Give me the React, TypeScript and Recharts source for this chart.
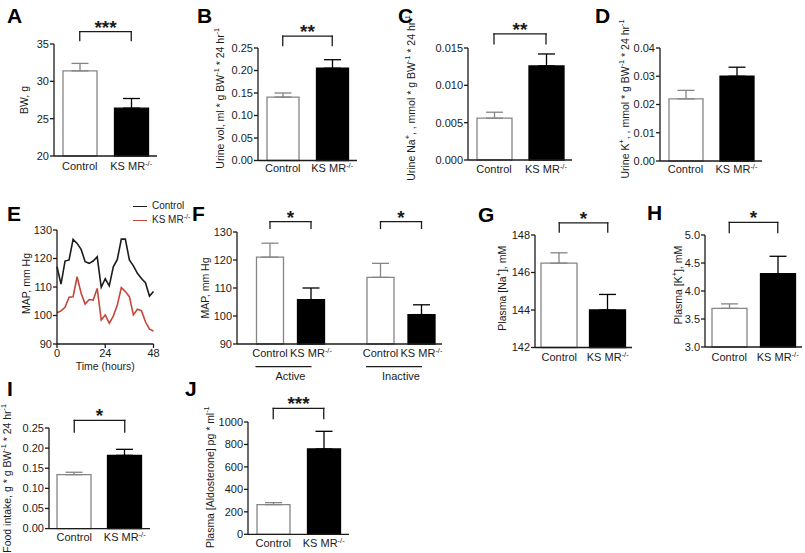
import React from 'react';
import { BarChart, Bar, Cell, XAxis, YAxis, ErrorBar, ReferenceLine, LineChart, Line, Legend } from 'recharts';

const FONT = '"Liberation Sans", Arial, Helvetica, sans-serif';
const INK = '#1b1b1b';
const GREY = '#858585';
const RED = '#c4473b';
const YW = 60;
const PADL = 80;
const PADT = 42;
const PADR = 8;

// ---------- data ----------
const groups = ['Control', 'KS MR-/-'];

// A body weight
const bwMean = [31.4, 26.4];
const bwErr = [1.0, 1.3];
const bwTicks = [20, 25, 30, 35];
// B urine volume
const urineVolMean = [0.141, 0.205];
const urineVolErr = [0.009, 0.019];
const urineVolTicks = [0, 0.05, 0.1, 0.15, 0.2, 0.25];
// C urine Na
const urineNaMean = [0.0056, 0.0126];
const urineNaErr = [0.0008, 0.0016];
const urineNaTicks = [0, 0.005, 0.01, 0.015];
// D urine K
const urineKMean = [0.022, 0.03];
const urineKErr = [0.003, 0.0032];
const urineKTicks = [0, 0.01, 0.02, 0.03, 0.04];
// E MAP time course
const hours = [0, 2, 4, 6, 8, 10, 12, 14, 16, 18, 20, 22, 24, 26, 28, 30, 32, 34, 36, 38, 40, 42, 44, 46, 48];
const mapControl = [117.1, 111.0, 119.1, 119.5, 126.7, 125.3, 123.2, 118.9, 118.3, 119.1, 120.6, 109.9, 112.9, 110.4, 117.1, 119.7, 126.8, 126.8, 119.5, 117.4, 114.8, 113.0, 111.5, 106.8, 108.4];
const mapKS = [101.0, 101.6, 102.9, 106.4, 106.6, 113.6, 107.8, 104.0, 105.6, 105.4, 109.5, 98.4, 100.2, 97.3, 99.8, 103.7, 109.8, 108.4, 106.6, 100.2, 102.2, 101.7, 97.8, 95.2, 94.6];
const hourTicks = [0, 24, 48];
const mapTicks = [90, 100, 110, 120, 130];
// F MAP active / inactive
const mapActiveMean = [121.0, 105.8];
const mapActiveErr = [5.0, 4.2];
const mapInactiveMean = [113.8, 100.5];
const mapInactiveErr = [5.0, 3.5];
// G plasma Na
const plasmaNaMean = [146.5, 144.0];
const plasmaNaErr = [0.55, 0.83];
const plasmaNaTicks = [142, 144, 146, 148];
// H plasma K
const plasmaKMean = [3.69, 4.31];
const plasmaKErr = [0.08, 0.31];
const plasmaKTicks = [3.0, 3.5, 4.0, 4.5, 5.0];
// I food intake
const foodMean = [0.134, 0.182];
const foodErr = [0.006, 0.015];
const foodTicks = [0, 0.05, 0.1, 0.15, 0.2, 0.25];
// J aldosterone
const aldoMean = [264, 760];
const aldoErr = [18, 157];
const aldoTicks = [0, 200, 400, 600, 800, 1000];

const rows = (mean: number[], err: number[]) =>
  groups.map((name, i) => ({
    name,
    value: mean[i],
    errC: i === 0 ? [0, err[i]] : undefined,
    errK: i === 1 ? [0, err[i]] : undefined,
  }));

const eRows = hours.map((h, i) => ({ h, ctrl: mapControl[i], ks: mapKS[i] }));

// ---------- text helpers ----------
const lblBW = ['BW, g'];
const lblUrineVol = ['Urine vol, ml * g BW', ['-1'], ' * 24 hr', ['-1']];
const lblUrineNa = ['Urine Na', ['+'], ', , mmol * g BW', ['-1'], ' * 24 hr', ['-1']];
const lblUrineK = ['Urine K', ['+'], ', , mmol * g BW', ['-1'], ' * 24 hr', ['-1']];
const lblMAP = ['MAP, mm Hg'];
const lblPNa = ['Plasma [Na', ['+'], '], mM'];
const lblPK = ['Plasma [K', ['+'], '], mM'];
const lblFood = ['Food intake, g * g BW', ['-1'], ' * 24 hr', ['-1']];
const lblAldo = ['Plasma [Aldosterone] pg * ml', ['-1']];

function rich(parts: any[], fs: number) {
  const out: any[] = [];
  let raised = false;
  const sh = fs * 0.38;
  parts.forEach((p, i) => {
    if (Array.isArray(p)) {
      out.push(<tspan key={i} fontSize={fs * 0.7} dy={raised ? 0 : -sh}>{p[0]}</tspan>);
      raised = true;
    } else {
      out.push(<tspan key={i} dy={raised ? sh : 0}>{p}</tspan>);
      raised = false;
    }
  });
  return out;
}

function YLabel(props: any) {
  const { viewBox, parts, dist, dy = 0 } = props;
  if (!viewBox) return null;
  const cx = viewBox.x + viewBox.width - dist;
  const cy = viewBox.y + viewBox.height / 2 + dy;
  return (
    <text x={cx} y={cy} transform={`rotate(-90 ${cx} ${cy})`} textAnchor="middle" dominantBaseline="central" fontSize={10.5} fill={INK} fontFamily={FONT}>
      {rich(parts, 10.5)}
    </text>
  );
}

function CatTick(props: any) {
  const { x, y, payload } = props;
  const v = String(payload.value);
  const k = v.indexOf('-/-');
  return (
    <text x={x} y={y} dy="0.71em" textAnchor="middle" fontSize={11} fill={INK} fontFamily={FONT}>
      {k < 0 ? v : [<tspan key="a">{v.slice(0, k)}</tspan>, <tspan key="b" fontSize={7.5} dy={-4}>-/-</tspan>]}
    </text>
  );
}

function GroupLabel(props: any) {
  const { viewBox, text, padL, padR } = props;
  if (!viewBox) return null;
  const c = viewBox.x + padL + (viewBox.width - padL - padR) / 2;
  const y0 = viewBox.y;
  return (
    <g>
      <line x1={c - 35} x2={c + 21} y1={y0 + 22.7} y2={y0 + 22.7} stroke={INK} strokeWidth={1.2} />
      <text x={c} y={y0 + 35.5} textAnchor="middle" fontSize={11} fill={INK} fontFamily={FONT}>{text}</text>
    </g>
  );
}

function bracketLines(b: number[] | undefined, stars: string) {
  if (!b) return null;
  const common: any = { stroke: INK, strokeWidth: 1.3, ifOverflow: 'visible', strokeLinecap: 'square' };
  return [
    <ReferenceLine key="bh" {...common} segment={[{ x: groups[0], y: b[0] }, { x: groups[1], y: b[0] }]}
      label={{ value: stars, position: 'top', offset: -2, fontSize: 19, fontWeight: 700, fill: INK }} />,
    <ReferenceLine key="bl" {...common} segment={[{ x: groups[0], y: b[0] }, { x: groups[0], y: b[1] }]} />,
    <ReferenceLine key="br" {...common} segment={[{ x: groups[1], y: b[0] }, { x: groups[1], y: b[1] }]} />,
  ];
}

function BarPanel(props: any) {
  const { g, data, domain, ticks, dec, label, bracket, stars, hideY, padding, groupLabel } = props;
  const { x0, x1, yT, yB, dist = 30, dy = 0, bar = 33, tm = 5, xh = 30 } = g;
  const left = hideY ? 0 : PADL;
  const yw = hideY ? 0 : YW;
  const W = x1 - x0 + left + PADR;
  const H = yB - yT + PADT + xh;
  return (
    <div style={{ position: 'absolute', left: x0 - left, top: yT - PADT }}>
      <BarChart width={W} height={H} data={data} margin={{ top: PADT, right: PADR, bottom: 0, left: left - yw }}>
        <XAxis dataKey="name" height={xh} interval={0} tickLine={false} tickSize={0} tickMargin={tm}
          axisLine={{ stroke: INK, strokeWidth: 1.3 }} tick={<CatTick />} padding={padding || { left: 0, right: 0 }}
          label={groupLabel} />
        <YAxis hide={!!hideY} width={yw} type="number" domain={domain} ticks={ticks} interval={0}
          tickFormatter={(v: number) => v.toFixed(dec)} tickSize={4} tickMargin={1}
          axisLine={{ stroke: INK, strokeWidth: 1.3 }} tickLine={{ stroke: INK, strokeWidth: 1.3 }}
          tick={{ fontSize: 11, fill: INK }}
          label={hideY ? undefined : <YLabel parts={label} dist={dist} dy={dy} />} />
        <Bar dataKey="value" barSize={bar} isAnimationActive={false}>
          {data.map((d: any, i: number) => (
            <Cell key={i} fill={i === 0 ? '#ffffff' : '#000000'} stroke={i === 0 ? GREY : '#000000'} strokeWidth={1.3} />
          ))}
          <ErrorBar dataKey="errC" width={8.5} stroke={GREY} strokeWidth={1.3} direction="y" />
          <ErrorBar dataKey="errK" width={8.5} stroke="#000000" strokeWidth={1.3} direction="y" />
        </Bar>
        {bracketLines(bracket, stars)}
      </BarChart>
    </div>
  );
}

function LegendBox(props: any) {
  const items = props.payload || [];
  return (
    <div style={{ fontFamily: FONT, fontSize: 10, color: INK }}>
      {items.map((it: any, i: number) => {
        const v = String(it.value);
        const k = v.indexOf('-/-');
        return (
          <div key={i} style={{ display: 'flex', alignItems: 'center', height: 14, lineHeight: '14px', whiteSpace: 'nowrap' }}>
            <span style={{ display: 'inline-block', width: 14, borderTop: `1.6px solid ${it.color}`, marginRight: 5 }} />
            <span>{k < 0 ? v : <>{v.slice(0, k)}<sup style={{ fontSize: 7, lineHeight: 0 }}>-/-</sup></>}</span>
          </div>
        );
      })}
    </div>
  );
}

function MapTimePanel() {
  const x0 = 56.5, x1 = 153, yT = 230, yB = 344, xh = 34, right = 62;
  return (
    <div style={{ position: 'absolute', left: x0 - PADL, top: yT - PADT }}>
      <LineChart width={x1 - x0 + PADL + right} height={yB - yT + PADT + xh} data={eRows}
        margin={{ top: PADT, right, bottom: 0, left: PADL - YW }}>
        <XAxis dataKey="h" type="number" domain={[0, 48]} ticks={hourTicks} interval={0} height={xh}
          tickSize={4} tickMargin={1} axisLine={{ stroke: INK, strokeWidth: 1.3 }} tickLine={{ stroke: INK, strokeWidth: 1.3 }}
          tick={{ fontSize: 11, fill: INK }}
          label={{ value: 'Time (hours)', position: 'insideBottom', offset: 8.5, fontSize: 10.5, fill: INK }} />
        <YAxis width={YW} type="number" domain={[90, 130]} ticks={mapTicks} interval={0} tickSize={4} tickMargin={1}
          axisLine={{ stroke: INK, strokeWidth: 1.3 }} tickLine={{ stroke: INK, strokeWidth: 1.3 }}
          tick={{ fontSize: 11, fill: INK }} label={<YLabel parts={lblMAP} dist={31} dy={-3.5} />} />
        <Line type="linear" dataKey="ctrl" name="Control" stroke={INK} strokeWidth={1.6} dot={false} isAnimationActive={false} />
        <Line type="linear" dataKey="ks" name="KS MR-/-" stroke={RED} strokeWidth={1.6} dot={false} isAnimationActive={false} />
        <Legend layout="vertical" align="center" verticalAlign="middle"
          wrapperStyle={{ left: 156.5, top: 11, width: 90, height: 28 }} content={<LegendBox />} />
      </LineChart>
    </div>
  );
}

const letters: [string, number, number][] = [
  ['A', 7, 5], ['B', 197, 5], ['C', 398, 5], ['D', 595, 5],
  ['E', 7, 203], ['F', 192, 203], ['G', 478, 204], ['H', 647, 202],
  ['I', 7, 378], ['J', 185, 378],
];

export default function App() {
  return (
    <div style={{ position: 'absolute', left: 0, top: 0, width: 805, height: 553, background: '#ffffff', fontFamily: FONT, overflow: 'hidden' }}>
      <BarPanel g={{ x0: 54, x1: 157, yT: 44, yB: 156, dist: 30, dy: 0, bar: 34, tm: 6 }}
        data={rows(bwMean, bwErr)} domain={[20, 35]} ticks={bwTicks} dec={0} label={lblBW}
        bracket={[36.65, 35.45]} stars="***" />
      <BarPanel g={{ x0: 258, x1: 357, yT: 47.5, yB: 160, dist: 38, dy: -6, bar: 32, tm: 4 }}
        data={rows(urineVolMean, urineVolErr)} domain={[0, 0.25]} ticks={urineVolTicks} dec={2} label={lblUrineVol}
        bracket={[0.2762, 0.2556]} stars="**" />
      <BarPanel g={{ x0: 468, x1: 572, yT: 47.5, yB: 159.5, dist: 57, dy: -6, bar: 35, tm: 5 }}
        data={rows(urineNaMean, urineNaErr)} domain={[0, 0.015]} ticks={urineNaTicks} dec={3} label={lblUrineNa}
        bracket={[0.0169, 0.01556]} stars="**" />
      <BarPanel g={{ x0: 660, x1: 762, yT: 47.5, yB: 160.5, dist: 35, dy: -5.5, bar: 34, tm: 4.5 }}
        data={rows(urineKMean, urineKErr)} domain={[0, 0.04]} ticks={urineKTicks} dec={2} label={lblUrineK} />

      <MapTimePanel />

      <BarPanel g={{ x0: 237, x1: 340, yT: 232, yB: 344, dist: 32, dy: 0, bar: 27, tm: 5, xh: 45 }}
        data={rows(mapActiveMean, mapActiveErr)} domain={[90, 130]} ticks={mapTicks} dec={0} label={lblMAP}
        padding={{ left: 12.5, right: 8.5 }} bracket={[133.7, 131.3]} stars="*"
        groupLabel={<GroupLabel text="Active" padL={12.5} padR={8.5} />} />
      <BarPanel g={{ x0: 340, x1: 442, yT: 232, yB: 344, bar: 27, tm: 5, xh: 45 }} hideY
        data={rows(mapInactiveMean, mapInactiveErr)} domain={[90, 130]} ticks={mapTicks} dec={0}
        padding={{ left: 20, right: 0 }} bracket={[133.7, 131.3]} stars="*"
        groupLabel={<GroupLabel text="Inactive" padL={20} padR={0} />} />
      <BarPanel g={{ x0: 535, x1: 632, yT: 234.5, yB: 347, dist: 33, dy: -3, bar: 36, tm: 6 }}
        data={rows(plasmaNaMean, plasmaNaErr)} domain={[142, 148]} ticks={plasmaNaTicks} dec={0} label={lblPNa}
        bracket={[148.65, 148.15]} stars="*" />
      <BarPanel g={{ x0: 705, x1: 802, yT: 235, yB: 347, dist: 27, dy: -6, bar: 35, tm: 6 }}
        data={rows(plasmaKMean, plasmaKErr)} domain={[3, 5]} ticks={plasmaKTicks} dec={1} label={lblPK}
        bracket={[5.227, 5.041]} stars="*" />

      <BarPanel g={{ x0: 49, x1: 150, yT: 427.7, yB: 528.3, dist: 42, dy: 0, bar: 34, tm: 4.5 }}
        data={rows(foodMean, foodErr)} domain={[0, 0.25]} ticks={foodTicks} dec={2} label={lblFood}
        bracket={[0.2691, 0.24]} stars="*" />
      <BarPanel g={{ x0: 248, x1: 349, yT: 421.7, yB: 534, dist: 38, dy: -1, bar: 33, tm: 5 }}
        data={rows(aldoMean, aldoErr)} domain={[0, 1000]} ticks={aldoTicks} dec={0} label={lblAldo}
        bracket={[1122, 1030]} stars="***" />

      {letters.map(([t, x, y]) => (
        <div key={t} style={{ position: 'absolute', left: x, top: y, fontSize: 21, fontWeight: 700, lineHeight: 1, color: '#000', fontFamily: FONT }}>{t}</div>
      ))}
    </div>
  );
}
